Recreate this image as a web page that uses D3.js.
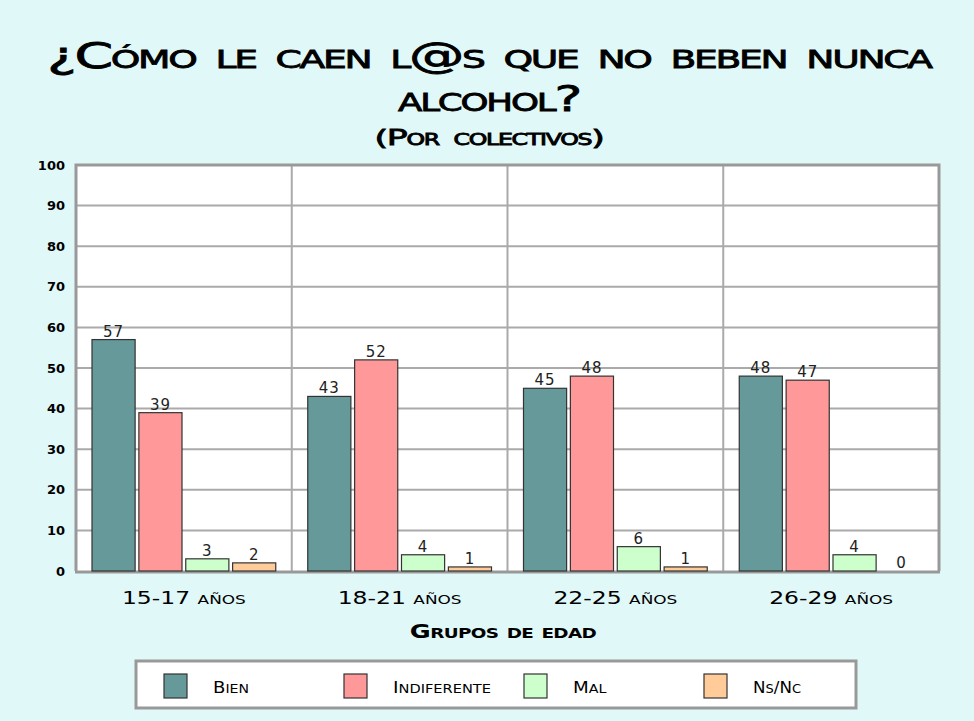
<!DOCTYPE html>
<html>
<head>
<meta charset="utf-8">
<script src="https://cdn.jsdelivr.net/npm/d3@7"></script>
<style>
  body { margin: 0; background: #e0f8f8; }
  svg { display: block; }
  text { font-family: "DejaVu Sans", sans-serif; }
</style>
</head>
<body>
<svg id="chart" width="974" height="721"></svg>
<script>
// data
const groups = ["15-17 años", "18-21 años", "22-25 años", "26-29 años"];
const seriesNames = ["Bien", "Indiferente", "Mal", "Ns/Nc"];
const bien = [57, 43, 45, 48];
const indiferente = [39, 52, 48, 47];
const mal = [3, 4, 6, 4];
const nsnc = [2, 1, 1, 0];
const yTicks = [0, 10, 20, 30, 40, 50, 60, 70, 80, 90, 100];
const colors = ["#669999", "#ff9999", "#ccffcc", "#ffcc99"];

const values = [bien, indiferente, mal, nsnc];

// fake small caps: lowercase runs become smaller capitals
function smallCaps(sel, ratio) {
    sel.each(function() {
        const t = d3.select(this);
        const str = t.text();
        t.text(null);
        const runs = str.match(/[a-zñáéíóú]+|[^a-zñáéíóú]+/g) || [];
        runs.forEach(r => {
            const low = /[a-zñáéíóú]/.test(r[0]);
            t.append("tspan")
                .style("font-size", low ? ratio + "em" : "1em")
                .text(r.toUpperCase());
        });
    });
}

// stretch a centred text horizontally to a target width
function stretchTo(sel, w) {
    sel.each(function(d) {
        const node = this;
        const target = typeof w === "function" ? w(d) : w;
        const nat = node.getBBox().width;
        const cx = +node.getAttribute("x") || 0, cy = +node.getAttribute("y") || 0;
        node.removeAttribute("x"); node.removeAttribute("y");
        node.setAttribute("transform", `translate(${cx},${cy}) scale(${target / nat},1)`);
    });
}

const svg = d3.select("#chart");
const margin = {top: 165, right: 35, bottom: 150, left: 76};
const width = 974 - margin.left - margin.right,
    height = 721 - margin.top - margin.bottom;

svg.append("rect").attr("width", 974).attr("height", 721).attr("fill", "#e0f8f8");

// titles
const titleLines = [
    {t: "¿Cómo le caen l@s que no beben nunca", y: 68, size: 36, w: 886, ls: -1.5},
    {t: "alcohol?", y: 111, size: 36, w: 182, ls: -1.5},
    {t: "(Por colectivos)", y: 145, size: 22, w: 229, ls: -0.8}
];
svg.selectAll("text.title")
    .data(titleLines)
    .join("text")
    .attr("class", "title")
    .attr("x", 489)
    .attr("y", d => d.y)
    .attr("text-anchor", "middle")
    .style("font-size", d => d.size + "px")
    .style("letter-spacing", d => d.ls + "px")
    .style("word-spacing", "3px")
    .style("stroke", "#000")
    .style("stroke-width", 0.8)
    .text(d => d.t)
    .call(smallCaps, 0.68)
    .call(stretchTo, d => d.w);

const chart = svg.append("g")
    .attr("transform", `translate(${margin.left},${margin.top})`);

const x0 = d3.scaleBand().domain(groups).range([0, width]).paddingInner(0).paddingOuter(0);
const x1 = d3.scaleBand().domain(seriesNames).range([16, x0.bandwidth() - 16]).paddingInner(0.08);
const y = d3.scaleLinear().domain([0, 100]).range([height, 0]);

chart.append("rect")
    .attr("width", width).attr("height", height)
    .attr("fill", "#fff");

// gridlines
chart.selectAll("line.grid")
    .data(yTicks.filter(d => d > 0 && d < 100))
    .join("line")
    .attr("x1", 0).attr("x2", width)
    .attr("y1", d => y(d)).attr("y2", d => y(d))
    .attr("stroke", "#aaa").attr("stroke-width", 2);

chart.selectAll("line.sep")
    .data(groups.slice(1))
    .join("line")
    .attr("x1", d => x0(d)).attr("x2", d => x0(d))
    .attr("y1", 0).attr("y2", height)
    .attr("stroke", "#aaa").attr("stroke-width", 2);

// frame
chart.append("path")
    .attr("d", `M0,${height}V0H${width}V${height}`)
    .attr("fill", "none").attr("stroke", "#999").attr("stroke-width", 3);
chart.append("line")
    .attr("x1", -1).attr("x2", width + 1)
    .attr("y1", height + 1).attr("y2", height + 1)
    .attr("stroke", "#999").attr("stroke-width", 3);

// bars
const g = chart.selectAll("g.group")
    .data(groups)
    .join("g")
    .attr("transform", d => `translate(${x0(d)},0)`);

const cells = g.selectAll("g.cell")
    .data((d, i) => seriesNames.map((s, j) => ({s, j, v: values[j][i]})))
    .join("g");

cells.filter(d => d.v > 0).append("rect")
    .attr("x", d => x1(d.s))
    .attr("y", d => y(d.v))
    .attr("width", x1.bandwidth())
    .attr("height", d => y(0) - y(d.v))
    .attr("fill", d => colors[d.j])
    .attr("stroke", "#333").attr("stroke-width", 1.2);

cells.append("text")
    .attr("x", d => x1(d.s) + x1.bandwidth() / 2)
    .attr("y", d => d.v > 0 ? y(d.v) - 3 : y(0) - 3)
    .attr("text-anchor", "middle")
    .style("font-size", "15px")
    .style("letter-spacing", "1px")
    .style("fill", "#222")
    .text(d => d.v);

// y axis
const yAxis = chart.append("g")
    .call(d3.axisLeft(y).tickValues(yTicks).tickSize(0).tickPadding(11));
yAxis.select(".domain").remove();
yAxis.selectAll("text")
    .style("font-family", "DejaVu Sans, sans-serif")
    .style("font-size", "13px")
    .style("font-weight", "bold")
    .style("fill", "#000");

// x axis
const xAxis = chart.append("g")
    .attr("transform", `translate(0,${height})`)
    .call(d3.axisBottom(x0).tickSize(0).tickPadding(20));
xAxis.select(".domain").remove();
xAxis.selectAll("text")
    .style("font-family", "DejaVu Sans, sans-serif")
    .style("font-size", "18px")
    .style("fill", "#000")
    .call(smallCaps, 0.72);
xAxis.selectAll("text").each(function() {
    // axis text uses dy; stretch around its centre
    const nat = this.getBBox().width;
    d3.select(this).attr("transform", `scale(${124 / nat},1)`);
});

svg.append("text")
    .attr("x", 503).attr("y", 638)
    .attr("text-anchor", "middle")
    .style("font-weight", "bold")
    .style("font-size", "20px")
    .style("letter-spacing", "-0.5px")
    .text("Grupos de edad")
    .call(smallCaps, 0.72)
    .call(stretchTo, 187);

// legend
const legend = svg.append("g");
legend.append("rect")
    .attr("x", 136).attr("y", 661)
    .attr("width", 720).attr("height", 47)
    .attr("fill", "#fff").attr("stroke", "#999").attr("stroke-width", 3);

const labelWidths = [36, 98, 34, 48];
const items = legend.selectAll("g.item")
    .data(seriesNames)
    .join("g")
    .attr("transform", (d, i) => `translate(${164 + i * 180},674)`);
items.append("rect")
    .attr("width", 23).attr("height", 24)
    .attr("fill", (d, i) => colors[i])
    .attr("stroke", "#333").attr("stroke-width", 1.2);
items.append("text")
    .attr("x", 49).attr("y", 19)
    .style("font-size", "15px")
    .text(d => d)
    .call(smallCaps, 0.78)
    .each(function(d, i) {
        const nat = this.getBBox().width;
        d3.select(this).attr("x", null).attr("y", null)
            .attr("transform", `translate(49,19) scale(${labelWidths[i] / nat},1)`);
    });
</script>
</body>
</html>
